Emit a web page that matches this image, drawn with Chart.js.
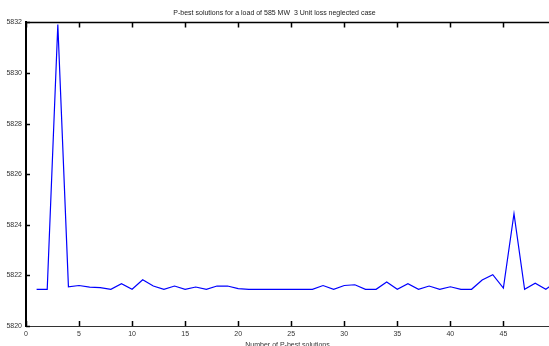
<!DOCTYPE html>
<html>
<head>
<meta charset="utf-8">
<script src="https://cdn.jsdelivr.net/npm/chart.js@4/dist/chart.umd.min.js"></script>
<style>
  html, body { margin: 0; padding: 0; background: #fff; }
  #wrap { width: 549px; height: 346px; }
</style>
</head>
<body>
<div id="wrap"><canvas id="pbestChart" width="549" height="346"></canvas></div>
<script>
// solution index
const solutionNo = [1, 2, 3, 4, 5, 6, 7, 8, 9, 10, 11, 12, 13, 14, 15, 16, 17, 18, 19, 20,
    21, 22, 23, 24, 25, 26, 27, 28, 29, 30, 31, 32, 33, 34, 35, 36, 37, 38, 39, 40,
    41, 42, 43, 44, 45, 46, 47, 48, 49, 50];

// cost of each P-best solution
const costValues = [5821.45, 5821.45, 5831.92, 5821.55, 5821.60, 5821.54, 5821.52, 5821.45, 5821.67, 5821.45,
    5821.83, 5821.58, 5821.45, 5821.58, 5821.45, 5821.54, 5821.45, 5821.58, 5821.58, 5821.48,
    5821.45, 5821.45, 5821.45, 5821.45, 5821.45, 5821.45, 5821.45, 5821.60, 5821.45, 5821.60,
    5821.63, 5821.45, 5821.45, 5821.74, 5821.45, 5821.67, 5821.45, 5821.58, 5821.45, 5821.55,
    5821.45, 5821.45, 5821.82, 5822.03, 5821.50, 5824.44, 5821.45, 5821.69, 5821.45, 5821.75];

const xTicks = [0, 5, 10, 15, 20, 25, 30, 35, 40, 45];
const yTicks = [5820, 5822, 5824, 5826, 5828, 5830, 5832];

const FONT = '"Liberation Sans Narrow", "Liberation Sans", Arial, sans-serif';

// small inward tick marks like the matlab axes
const axesFrame = {
    id: 'axesFrame',
    afterDraw(chart) {
        const ctx = chart.ctx;
        const area = chart.chartArea;
        const xs = chart.scales.x;
        const ys = chart.scales.y;
        ctx.save();
        ctx.strokeStyle = '#000';
        // top border
        ctx.lineWidth = 1.5;
        ctx.beginPath();
        ctx.moveTo(area.left, area.top);
        ctx.lineTo(area.right, area.top);
        ctx.stroke();

        xTicks.forEach(v => {
            const px = Math.round(xs.getPixelForValue(v)) + 0.5;
            ctx.beginPath();
            ctx.moveTo(px, area.bottom);
            ctx.lineTo(px, area.bottom - 5);
            ctx.moveTo(px, area.top);
            ctx.lineTo(px, area.top + 5);
            ctx.stroke();
        });
        yTicks.forEach(v => {
            const py = Math.round(ys.getPixelForValue(v)) + 0.5;
            ctx.beginPath();
            ctx.moveTo(area.left, py);
            ctx.lineTo(area.left + 4, py);
            ctx.stroke();
        });
        ctx.restore();
    }
};

const ctx = document.getElementById('pbestChart').getContext('2d');

new Chart(ctx, {
    type: 'line',
    data: {
        labels: solutionNo,
        datasets: [{
            data: solutionNo.map((n, i) => ({ x: n, y: costValues[i] })),
            borderColor: '#0000ff',
            borderWidth: 1.2,
            pointRadius: 0,
            tension: 0,
            fill: false
        }]
    },
    options: {
        responsive: false,
        animation: false,
        layout: { padding: { left: 0, right: 0, top: 0, bottom: 0 } },
        plugins: {
            legend: { display: false },
            tooltip: { enabled: false },
            title: {
                display: true,
                text: 'P-best solutions for a load of 585 MW  3 Unit loss neglected case',
                color: '#222',
                font: { family: FONT, size: 7, weight: 'normal' },
                padding: { top: 9, bottom: 5 }
            }
        },
        scales: {
            x: {
                type: 'linear',
                min: 0,
                max: 49.3,
                afterBuildTicks: scale => {
                    scale.ticks = xTicks.map(v => ({ value: v }));
                },
                afterFit: scale => { scale.height = 20; },
                grid: { display: false, drawTicks: false },
                border: { display: true, color: '#333', width: 1 },
                ticks: {
                    color: '#333',
                    padding: 4,
                    maxRotation: 0,
                    font: { family: FONT, size: 7 },
                    callback: v => String(v)
                },
                title: {
                    display: true,
                    text: 'Number of P-best solutions',
                    color: '#333',
                    font: { family: FONT, size: 7 },
                    padding: { top: 0, bottom: -3 }
                }
            },
            y: {
                min: 5820,
                max: 5832,
                afterBuildTicks: scale => {
                    scale.ticks = yTicks.map(v => ({ value: v }));
                },
                afterFit: scale => { scale.width = 26; },
                grid: { display: false, drawTicks: false },
                border: { display: true, color: '#000', width: 2 },
                ticks: {
                    color: '#333',
                    padding: 4,
                    font: { family: FONT, size: 7 },
                    callback: v => String(v)
                }
            }
        }
    },
    plugins: [axesFrame]
});
</script>
</body>
</html>
